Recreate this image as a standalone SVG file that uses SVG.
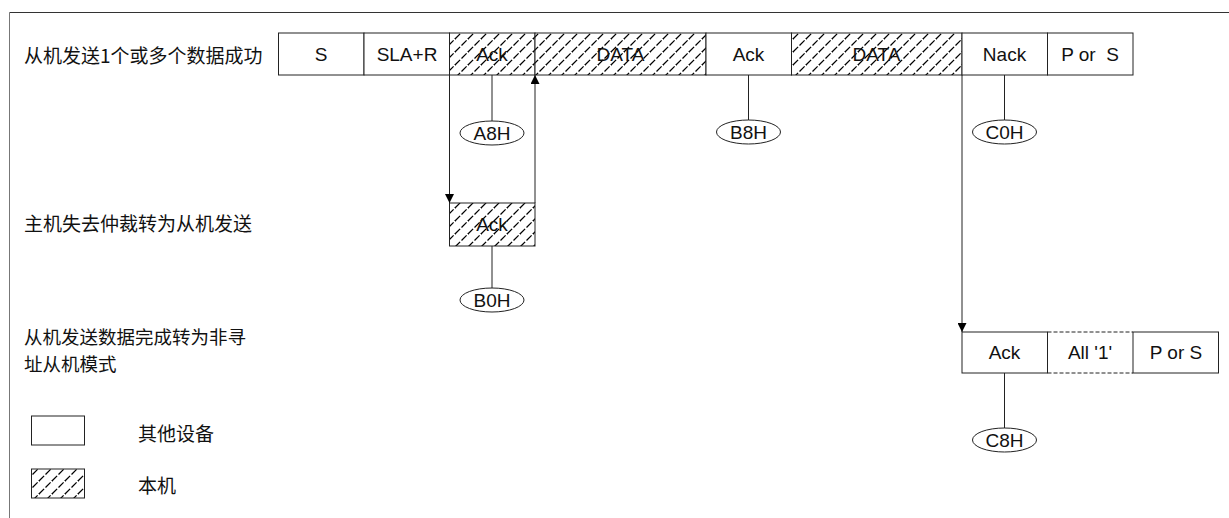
<svg xmlns="http://www.w3.org/2000/svg" width="1229" height="518" viewBox="0 0 1229 518">
<defs>
<style>
.box{fill:#fff;stroke:#222;stroke-width:1}
.hbox{fill:url(#hatch);stroke:#222;stroke-width:1}
.t{font-family:"Liberation Sans",Arial,sans-serif;font-size:19px;fill:#111;text-anchor:middle;dominant-baseline:central}
.cn{font-family:"Noto Sans CJK SC","Noto Sans",sans-serif;font-size:19px;fill:#111;dominant-baseline:central}
.ln{stroke:#222;stroke-width:1;fill:none}
.el{fill:#fff;stroke:#222;stroke-width:1}
.dash{stroke:#222;stroke-width:1;stroke-dasharray:4 2;fill:none}
</style>
<pattern id="hatch" patternUnits="userSpaceOnUse" x="0" y="0" width="13" height="13">
<rect width="13" height="13" fill="#fff"/>
<path d="M0,13 L13,0 M-2,2 L2,-2 M11,15 L15,11" stroke="#000" stroke-width="1.3" stroke-dasharray="7.2 2" fill="none"/>
</pattern>
<marker id="arr" viewBox="0 0 10 10" refX="10" refY="5" markerWidth="9" markerHeight="9" markerUnits="userSpaceOnUse" orient="auto">
<path d="M0,0 L10,5 L0,10 Z" fill="#000"/>
</marker>
</defs>

<g id="frame">
<line x1="9.5" y1="12.5" x2="1229" y2="12.5" stroke="#333" stroke-width="1"/>
<line x1="9.5" y1="12.5" x2="9.5" y2="518" stroke="#777" stroke-width="1"/>
</g>

<g id="labels">
<text class="cn" x="24" y="54">从机发送1个或多个数据成功</text>
<text class="cn" x="24" y="222">主机失去仲裁转为从机发送</text>
<text class="cn" x="24" y="336" style="font-size:18.5px">从机发送数据完成转为非寻</text>
<text class="cn" x="24" y="363" style="font-size:18.5px">址从机模式</text>
</g>

<g id="row1">
<g id="r1-s"><rect class="box" x="278.5" y="33" width="85.5" height="42"/><text class="t" x="321" y="54">S</text></g>
<g id="r1-sla"><rect class="box" x="364" y="33" width="85.5" height="42"/><text class="t" x="407" y="54">SLA+R</text></g>
<g id="r1-ack1"><rect class="hbox" x="449.5" y="33" width="85.5" height="42"/><text class="t" x="492" y="54">Ack</text></g>
<g id="r1-data1"><rect class="hbox" x="535" y="33" width="171" height="42"/><text class="t" x="620.5" y="54">DATA</text></g>
<g id="r1-ack2"><rect class="box" x="706" y="33" width="85.5" height="42"/><text class="t" x="748.5" y="54">Ack</text></g>
<g id="r1-data2"><rect class="hbox" x="791.5" y="33" width="170.5" height="42"/><text class="t" x="876.5" y="54">DATA</text></g>
<g id="r1-nack"><rect class="box" x="962" y="33" width="85.5" height="42"/><text class="t" x="1004.5" y="54">Nack</text></g>
<g id="r1-pors"><rect class="box" x="1047.5" y="33" width="85.5" height="42"/><text class="t" x="1090" y="54" xml:space="preserve">P or  S</text></g>
</g>

<g id="row2">
<g id="r2-ack"><rect class="hbox" x="449.5" y="203" width="85.5" height="43"/><text class="t" x="492" y="224.5">Ack</text></g>
</g>

<g id="row3">
<g id="r3-ack"><rect class="box" x="962" y="332" width="85.5" height="41"/><text class="t" x="1004.5" y="352.5">Ack</text></g>
<g id="r3-all1">
<line class="dash" x1="1047.5" y1="332" x2="1133" y2="332"/>
<line class="dash" x1="1047.5" y1="373" x2="1133" y2="373"/>
<text class="t" x="1090" y="352.5">All '1'</text>
</g>
<g id="r3-pors"><rect class="box" x="1133" y="332" width="85.5" height="41"/><text class="t" x="1176" y="352.5">P or S</text></g>
</g>

<g id="connectors">
<line class="ln" x1="492" y1="75" x2="492" y2="121"/>
<line class="ln" x1="748.5" y1="75" x2="748.5" y2="120"/>
<line class="ln" x1="1004.5" y1="75" x2="1004.5" y2="120"/>
<line class="ln" x1="492" y1="246" x2="492" y2="288"/>
<line class="ln" x1="1004.5" y1="373" x2="1004.5" y2="428"/>
<line class="ln" x1="449.5" y1="75" x2="449.5" y2="203" marker-end="url(#arr)"/>
<line class="ln" x1="535" y1="203" x2="535" y2="75" marker-end="url(#arr)"/>
<line class="ln" x1="962" y1="75" x2="962" y2="332" marker-end="url(#arr)"/>
</g>

<g id="states">
<g id="s-a8h"><ellipse class="el" cx="492" cy="133" rx="32" ry="12"/><text class="t" x="492" y="133">A8H</text></g>
<g id="s-b8h"><ellipse class="el" cx="748.5" cy="132" rx="32" ry="12"/><text class="t" x="748.5" y="132">B8H</text></g>
<g id="s-c0h"><ellipse class="el" cx="1004.5" cy="132" rx="32" ry="12"/><text class="t" x="1004.5" y="132">C0H</text></g>
<g id="s-b0h"><ellipse class="el" cx="492" cy="300" rx="32" ry="12"/><text class="t" x="492" y="300">B0H</text></g>
<g id="s-c8h"><ellipse class="el" cx="1004.5" cy="440" rx="32" ry="12"/><text class="t" x="1004.5" y="440">C8H</text></g>
</g>

<g id="legend">
<g id="leg-other"><rect class="box" x="31.5" y="416" width="53" height="29"/><text class="cn" x="138" y="432">其他设备</text></g>
<g id="leg-self"><rect class="hbox" x="31.5" y="469" width="53" height="29"/><text class="cn" x="138" y="484">本机</text></g>
</g>
</svg>
